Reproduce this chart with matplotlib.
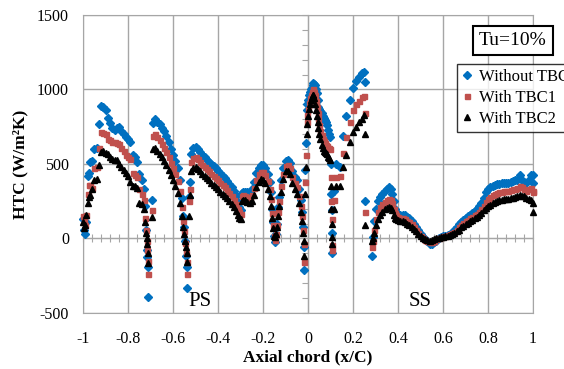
import matplotlib
matplotlib.use("Agg")
import matplotlib.pyplot as plt
from matplotlib.ticker import FuncFormatter, MultipleLocator

plt.rcParams["font.family"] = ["Liberation Serif", "DejaVu Serif"]
plt.rcParams["axes.unicode_minus"] = False

# axial chord positions (PS: x/C < 0, SS: x/C > 0), shared by all three series
x_c = [
    -1.00, -0.995, -0.99, -0.985, -0.98, -0.975, -0.97, -0.96, -0.95, -0.94,
    -0.93, -0.92, -0.91, -0.90, -0.89, -0.88, -0.87, -0.86, -0.85, -0.84,
    -0.83, -0.82, -0.81, -0.80, -0.79, -0.78, -0.77, -0.76, -0.75, -0.74,
    -0.73, -0.725, -0.72, -0.717, -0.714, -0.712, -0.71, -0.695, -0.69, -0.68,
    -0.67, -0.66, -0.65, -0.64, -0.63, -0.62, -0.61, -0.60, -0.59, -0.58,
    -0.57, -0.56, -0.555, -0.55, -0.545, -0.542, -0.54, -0.538, -0.528, -0.524,
    -0.52, -0.51, -0.50, -0.49, -0.48, -0.47, -0.46, -0.45, -0.44, -0.43,
    -0.42, -0.41, -0.40, -0.39, -0.38, -0.37, -0.36, -0.35, -0.34, -0.33,
    -0.32, -0.31, -0.305, -0.30, -0.295, -0.29, -0.28, -0.27, -0.26, -0.25,
    -0.24, -0.23, -0.22, -0.21, -0.20, -0.19, -0.18, -0.17, -0.165, -0.16,
    -0.155, -0.15, -0.147, -0.143, -0.14, -0.135, -0.13, -0.12, -0.11, -0.10,
    -0.09, -0.08, -0.07, -0.06, -0.05, -0.04, -0.03, -0.025, -0.021, -0.018,
    -0.016, -0.012, -0.009, -0.006, -0.003, 0.0, 0.004, 0.008, 0.012, 0.016,
    0.020, 0.024, 0.028, 0.031, 0.035, 0.039, 0.043, 0.046, 0.05, 0.055,
    0.06, 0.065, 0.07, 0.075, 0.08, 0.085, 0.09, 0.095, 0.098, 0.102,
    0.104, 0.105, 0.106, 0.107, 0.115, 0.125, 0.14, 0.155, 0.17, 0.185,
    0.20, 0.215, 0.225, 0.24, 0.25, 0.253, 0.255, 0.285, 0.29, 0.295,
    0.30, 0.31, 0.32, 0.33, 0.34, 0.35, 0.36, 0.37, 0.375, 0.38,
    0.385, 0.39, 0.40, 0.41, 0.42, 0.43, 0.44, 0.45, 0.46, 0.47,
    0.48, 0.49, 0.50, 0.51, 0.52, 0.53, 0.54, 0.55, 0.56, 0.57,
    0.58, 0.59, 0.60, 0.61, 0.62, 0.63, 0.64, 0.65, 0.66, 0.67,
    0.68, 0.69, 0.70, 0.71, 0.72, 0.73, 0.74, 0.75, 0.76, 0.77,
    0.78, 0.79, 0.80, 0.81, 0.82, 0.83, 0.84, 0.85, 0.86, 0.87,
    0.88, 0.89, 0.90, 0.91, 0.92, 0.93, 0.94, 0.95, 0.96, 0.97,
    0.98, 0.99, 1.00, 1.00,
]

htc_no_tbc = [
    130, 60, 30, 110, 420, 440, 510, 520, 600, 610,
    770, 890, 880, 860, 810, 775, 740, 730, 740, 750,
    720, 700, 680, 665, 650, 560, 545, 515, 430, 390,
    330, 215, 60, -80, -125, -190, -390, 258, 775, 805,
    785, 765, 740, 720, 690, 645, 600, 560, 520, 470,
    390, 270, 150, 80, -20, -120, -190, -335, 280, 380,
    570, 605, 615, 600, 580, 560, 545, 530, 515, 500,
    485, 470, 455, 440, 420, 405, 385, 365, 345, 320,
    285, 245, 210, 190, 305, 315, 315, 310, 310, 330,
    380, 440, 475, 493, 490, 470, 430, 380, 310, 200,
    110, 20, -25, 30, 100, 210, 280, 390, 470, 520,
    525, 505, 450, 415, 393, 330, 260, 180, 80, -60,
    -210, 460, 640, 860, 900, 930, 960, 985, 1000, 1010,
    1030, 1042, 1035, 1030, 1000, 975, 930, 885, 870, 855,
    840, 825, 810, 795, 780, 760, 730, 700, 683, 500,
    300, 190, 35, -100, 320, 500, 480, 690, 820, 930,
    1010, 1060, 1085, 1110, 1120, 1050, 250, -120, 10, 120,
    200, 250, 280, 300, 320, 335, 345, 330, 300, 250,
    200, 180, 165, 160, 160, 155, 145, 135, 120, 100,
    80, 55, 30, 10, -5, -20, -40, -40, -25, -15,
    0, 10, 15, 20, 25, 30, 40, 55, 75, 95,
    110, 125, 140, 150, 160, 170, 185, 195, 215, 240,
    275, 310, 330, 345, 355, 360, 365, 368, 370, 370,
    372, 375, 378, 385, 390, 395, 425, 395, 380, 370,
    395, 425, 370, 425,
]

htc_tbc1 = [
    150, 120, 90, 160, 300, 360, 360, 340, 470, 480,
    605, 715, 710, 700, 665, 660, 650, 650, 640, 635,
    605, 585, 560, 545, 535, 440, 425, 415, 330, 300,
    255, 135, 60, -20, -80, -150, -235, 190, 690, 700,
    680, 660, 635, 610, 580, 545, 505, 470, 430, 385,
    320, 210, 120, 50, -30, -100, -160, -235, 250, 335,
    510, 540, 550, 535, 515, 495, 480, 465, 450, 435,
    420, 405, 390, 375, 360, 345, 325, 305, 285, 260,
    230, 200, 180, 165, 285, 290, 285, 280, 280, 295,
    340, 395, 430, 448, 445, 425, 385, 335, 265, 170,
    90, 15, -10, 30, 90, 180, 250, 350, 435, 485,
    490, 470, 415, 375, 345, 285, 220, 150, 60, -40,
    -155, 380, 560, 780, 830, 870, 910, 940, 965, 985,
    995, 1000, 985, 960, 920, 880, 840, 800, 760, 720,
    695, 670, 655, 640, 630, 620, 610, 605, 600, 415,
    250, 130, -44, -77, 260, 415, 420, 575, 680, 780,
    860, 900, 920, 950, 955, 840, 180, -55, -20, 60,
    130, 180, 210, 230, 245, 255, 265, 260, 240, 200,
    170, 155, 145, 140, 140, 130, 120, 110, 95, 80,
    60, 40, 20, 5, -10, -20, -25, -25, -15, -5,
    5, 10, 15, 20, 25, 28, 35, 45, 60, 75,
    90, 105, 115, 125, 135, 145, 155, 165, 180, 200,
    220, 245, 265, 280, 290, 298, 305, 310, 315, 318,
    320, 322, 325, 330, 335, 340, 350, 345, 335, 320,
    330, 340, 310, 320,
]

htc_tbc2 = [
    110, 70, 90, 160, 240, 280, 290, 330, 390, 400,
    490, 580, 590, 575, 565, 545, 535, 530, 525, 500,
    480, 460, 440, 420, 380, 355, 350, 340, 240, 230,
    200, 110, 35, 0, -40, -100, -166, 146, 600, 610,
    590, 570, 545, 520, 490, 460, 425, 390, 350, 305,
    240, 150, 80, 30, -20, -60, -100, -155, 150, 290,
    455, 475, 480, 465, 450, 435, 420, 405, 390, 375,
    360, 345, 330, 315, 300, 285, 270, 250, 230, 210,
    185, 160, 140, 130, 250, 260, 255, 245, 240, 250,
    290, 345, 380, 400, 395, 375, 335, 285, 220, 140,
    70, 15, 10, 30, 80, 150, 220, 310, 400, 450,
    455, 430, 375, 335, 300, 240, 180, 120, 40, -20,
    -120, 300, 480, 700, 770, 820, 870, 900, 930, 950,
    960, 965, 940, 900, 860, 820, 780, 740, 700, 665,
    630, 605, 590, 580, 575, 565, 550, 540, 527, 350,
    200, 100, 12, -40, 200, 350, 350, 480, 560, 650,
    715, 750, 785, 800, 830, 700, 90, -20, 0, 40,
    90, 130, 160, 180, 195, 205, 210, 205, 190, 160,
    140, 130, 125, 120, 115, 110, 100, 90, 80, 65,
    50, 30, 15, 0, -5, -10, -15, -12, -5, 0,
    5, 8, 10, 15, 20, 25, 30, 40, 50, 60,
    75, 85, 95, 105, 115, 125, 135, 145, 155, 170,
    190, 205, 215, 225, 235, 243, 250, 255, 260, 262,
    265, 268, 270, 275, 280, 285, 290, 288, 282, 270,
    265, 255, 240, 180,
]

series_labels = ["Without TBC", "With TBC1", "With TBC2"]
grid_col = "#A6A6A6"

fig = plt.figure(figsize=(5.64, 3.69), dpi=100)
ax = fig.add_axes([0.1472, 0.1518, 0.7979, 0.8076])

ax.plot(x_c, htc_no_tbc, ls="none", marker="D", ms=3.6, color="#0070C0",
        mec="#0070C0", label=series_labels[0], clip_on=False, zorder=3)
ax.plot(x_c, htc_tbc1, ls="none", marker="s", ms=3.6, color="#C0504D",
        mec="#C0504D", label=series_labels[1], clip_on=False, zorder=4)
ax.plot(x_c, htc_tbc2, ls="none", marker="^", ms=4.2, color="black",
        mec="black", label=series_labels[2], clip_on=False, zorder=5)

ax.set_xlim(-1, 1)
ax.set_ylim(-500, 1500)
ax.xaxis.set_major_locator(MultipleLocator(0.2))
ax.yaxis.set_major_locator(MultipleLocator(500))
ax.xaxis.set_major_formatter(FuncFormatter(lambda v, _: f"{round(v, 1) + 0:g}"))
ax.grid(True, color=grid_col, lw=1)
ax.set_axisbelow(True)
ax.tick_params(length=0, labelsize=11.5, pad=10)
ax.tick_params(axis="x", pad=13)
for sp in ax.spines.values():
    sp.set_color(grid_col)

# axes crossing at zero, with their own small ticks
sx = ax.secondary_xaxis(0.25)
sx.xaxis.set_major_locator(MultipleLocator(0.04))
sx.tick_params(direction="inout", length=6, color=grid_col,
               labelbottom=False, labeltop=False)
sx.spines["bottom"].set_color(grid_col)
sy = ax.secondary_yaxis(0.5)
sy.set_alignment("left")
sy.yaxis.set_major_locator(MultipleLocator(100))
sy.tick_params(direction="out", length=4, color=grid_col,
               labelleft=False, labelright=False)
sy.spines["left"].set_color(grid_col)

ax.set_xlabel("Axial chord (x/C)", fontsize=12.5, fontweight="bold")
ax.set_ylabel("HTC (W/m²K)", fontsize=12.5, fontweight="bold")
ax.xaxis.set_label_coords(0.5, -0.148)
ax.xaxis.label.set_va("center")
ax.yaxis.set_label_coords(-0.14, 0.5)
ax.yaxis.label.set_va("center")

ax.text(-0.48, -420, "PS", fontsize=15, ha="center", va="center")
ax.text(0.50, -420, "SS", fontsize=15, ha="center", va="center")

fig.text(0.9096, 0.890, "Tu=10%", fontsize=14, ha="center", va="center",
         bbox=dict(boxstyle="square,pad=0.3", fc="white", ec="black", lw=1.5))

leg = ax.legend(loc="upper left", bbox_to_anchor=(457 / 564, 1 - 64 / 369),
                bbox_transform=fig.transFigure, fontsize=12, frameon=True,
                fancybox=False, edgecolor="black", borderaxespad=0,
                borderpad=0.3, labelspacing=0.3, handlelength=0.6,
                handletextpad=0.4)
leg.get_frame().set_linewidth(1)

fig.savefig("out.png", dpi=100)
